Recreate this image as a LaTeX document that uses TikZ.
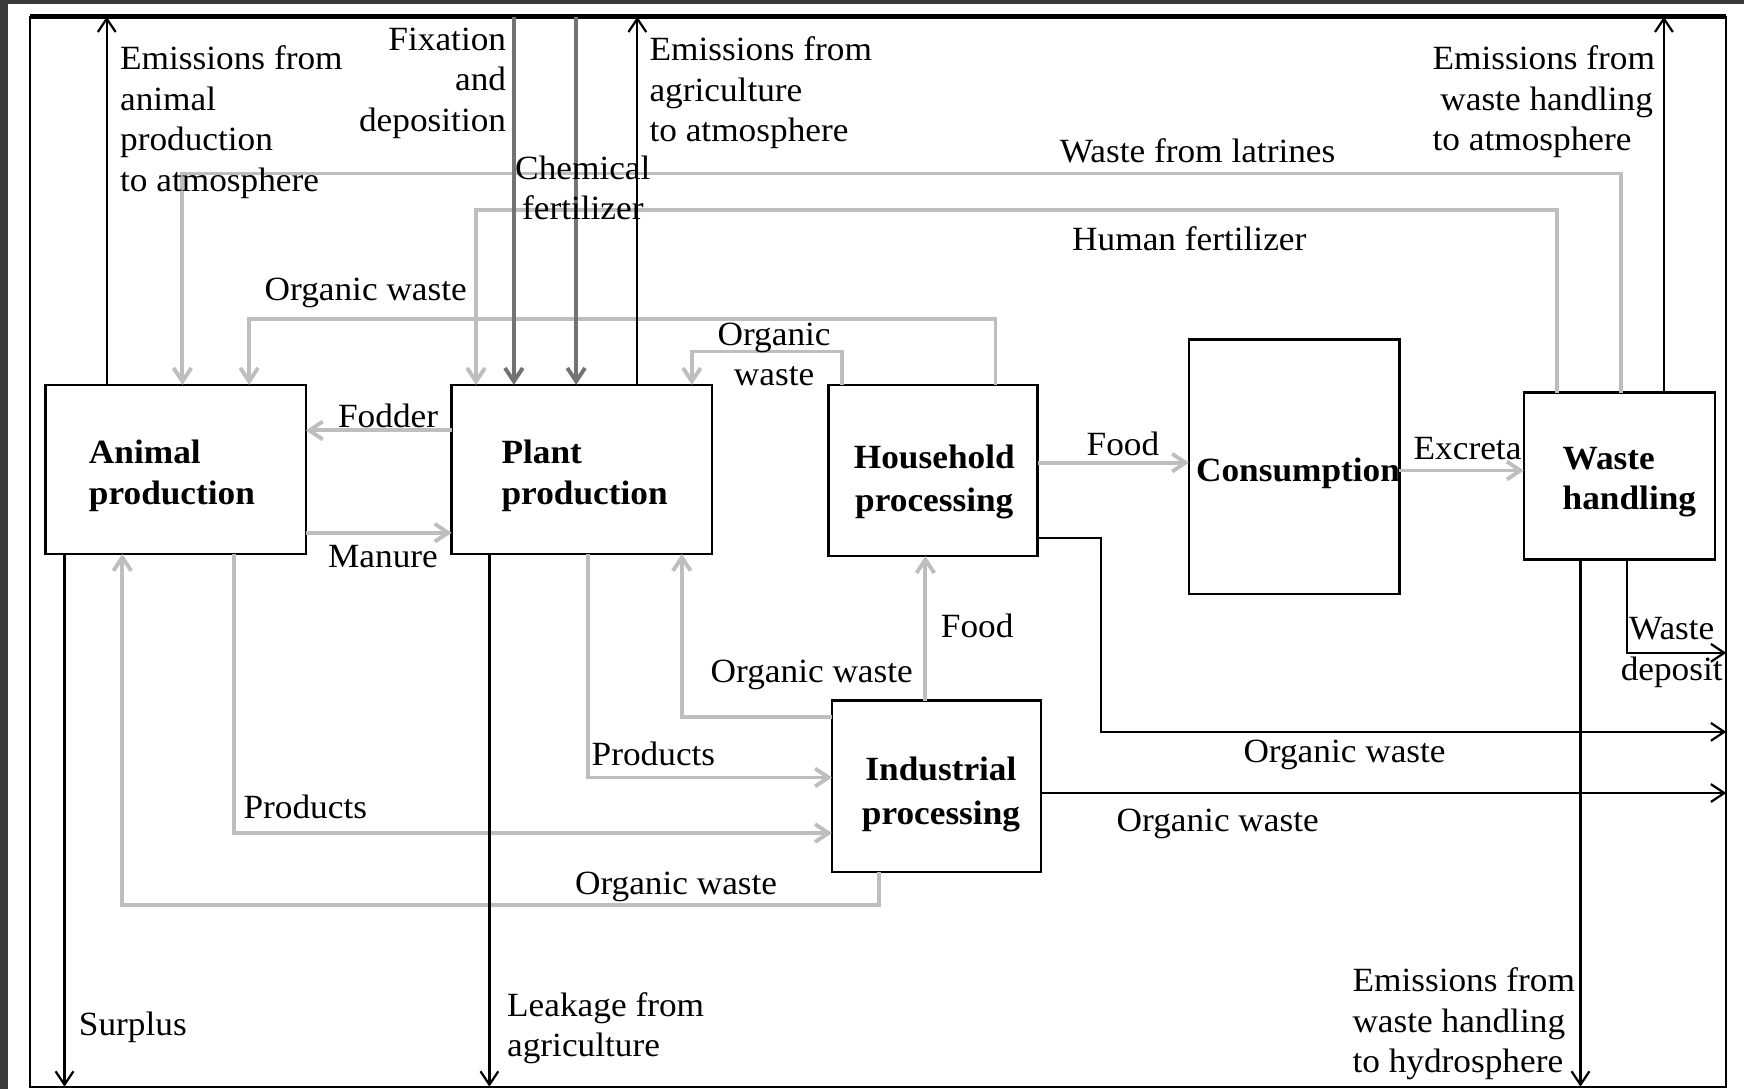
\documentclass[tikz,border=0pt]{standalone}
\usepackage{fontspec}
\setmainfont{Liberation Serif}[FakeStretch=1.04]
\usetikzlibrary{arrows.meta}
\definecolor{lgray}{HTML}{BEBEBE}
\definecolor{dgray}{HTML}{737373}
\definecolor{darkbg}{HTML}{3A3A3A}
\tikzset{
  lab/.style={inner sep=0pt, outer sep=0pt, font=\fontsize{30.5}{36.5}\selectfont, align=left, anchor=north west},
  blab/.style={inner sep=0pt, outer sep=0pt, font=\bfseries\fontsize{30.5}{36.5}\selectfont, align=left, anchor=north west},
  blabw/.style={blab, font=\bfseries\fontsize{30.5}{39}\selectfont, align=center, anchor=north},
  box/.style={draw, line width=2.3pt, inner sep=0pt, outer sep=0pt},
  tip/.style={-{Straight Barb[length=12pt,width=16pt]}},
  blk/.style={tip, line width=2pt, black},
  lg/.style={tip, line width=3.5pt, lgray},
  dg/.style={tip, line width=3.5pt, dgray},
}
\begin{document}
\begin{tikzpicture}[x=1pt,y=-1pt]
\useasboundingbox (0,0) rectangle (1568,979);
\fill[darkbg] (0,0) rectangle (1568,979);
\fill[white] (7.5,3.6) rectangle (1568,979);

% system frame
\node[draw, line width=2pt, inner sep=0pt, outer sep=0pt, minimum width=1525pt, minimum height=962pt] (sys) at (789.5,496) {};
\draw[line width=4pt] (sys.north west) -- (sys.north east);

% boxes
\node[box, minimum width=234pt, minimum height=152pt] (an) at (158,422) {};
\node[box, minimum width=234pt, minimum height=152pt] (pl) at (523,422) {};
\node[box, minimum width=188pt, minimum height=154pt] (hh) at (839,423) {};
\node[box, minimum width=189pt, minimum height=229pt] (co) at (1163.5,419.5) {};
\node[box, minimum width=172pt, minimum height=150pt] (wh) at (1456,428) {};
\node[box, minimum width=188pt, minimum height=154pt] (ip) at (842,707) {};

% box captions
\node[blab] (anT) at (80,396) {Animal\\production};
\node[blab] (plT) at (451,396) {Plant\\production};
\node[blabw] (hhT) at (840,400) {Household\\processing};
\node[blabw] (coT) at (1167,412) {Consumption};
\node[blab] (whT) at (1405,402) {Waste\\handling};
\node[blabw] (ipT) at (846,681) {Industrial\\processing};

% helper columns
\coordinate (xAe) at (96,0);
\coordinate (xAs) at (58,0);
\coordinate (xPe) at (573,0);
\coordinate (xPl) at (440,0);
\coordinate (xWe) at (1496,0);
\coordinate (xWh) at (1421,0);
\coordinate (xWd) at (1463,0);
\coordinate (xF1) at (462,0);
\coordinate (xF2) at (518,0);
\coordinate (xLat) at (1457,0);
\coordinate (xLatA) at (164,0);
\coordinate (xHf) at (1400,0);
\coordinate (xHfP) at (428,0);
\coordinate (xOwA) at (895,0);
\coordinate (xOwAa) at (224,0);
\coordinate (xOwB) at (757,0);
\coordinate (xOwBp) at (622,0);
\coordinate (xFood) at (832,0);
\coordinate (xOwC) at (613,0);
\coordinate (xPrA) at (529,0);
\coordinate (xPrB) at (210,0);
\coordinate (xOwD) at (790,0);
\coordinate (xOwDa) at (110,0);
\coordinate (xOwE) at (990,0);
% helper rows
\coordinate (yLat) at (0,156);
\coordinate (yHf) at (0,189);
\coordinate (yOwA) at (0,287);
\coordinate (yOwB) at (0,316);
\coordinate (yFod) at (0,387);
\coordinate (yMan) at (0,479);
\coordinate (yFood) at (0,416);
\coordinate (yExc) at (0,423);
\coordinate (yOwH) at (0,484);
\coordinate (yWd) at (0,587);
\coordinate (yOwC) at (0,645);
\coordinate (yOutA) at (0,658);
\coordinate (yPrA) at (0,699);
\coordinate (yOutB) at (0,713);
\coordinate (yPrB) at (0,749);
\coordinate (yOwD) at (0,814);

% light gray flows
\draw[lg] (pl.west |- yFod) -- (an.east |- yFod);
\draw[lg] (an.east |- yMan) -- (pl.west |- yMan);
\draw[lg] (xLat |- wh.north) |- (xLatA |- yLat) -- (xLatA |- an.north);
\draw[lg] (xHf |- wh.north) |- (xHfP |- yHf) -- (xHfP |- pl.north);
\draw[lg] (xOwA |- hh.north) |- (xOwAa |- yOwA) -- (xOwAa |- an.north);
\draw[lg] (xOwB |- hh.north) |- (xOwBp |- yOwB) -- (xOwBp |- pl.north);
\draw[lg] (hh.east |- yFood) -- (co.west |- yFood);
\draw[lg] (co.east |- yExc) -- (wh.west |- yExc);
\draw[lg] (xFood |- ip.north) -- (xFood |- hh.south);
\draw[lg] (ip.west |- yOwC) -| (xOwC |- pl.south);
\draw[lg] (xPrA |- pl.south) |- (ip.west |- yPrA);
\draw[lg] (xPrB |- an.south) |- (ip.west |- yPrB);
\draw[lg] (xOwD |- ip.south) |- (xOwDa |- yOwD) -- (xOwDa |- an.south);

% dark gray inputs
\draw[dg] (xF1 |- sys.north) -- (xF1 |- pl.north);
\draw[dg] (xF2 |- sys.north) -- (xF2 |- pl.north);

% black flows across the boundary
\draw[blk] (xAe |- an.north) -- (xAe |- sys.north);
\draw[blk] (xPe |- pl.north) -- (xPe |- sys.north);
\draw[blk] (xWe |- wh.north) -- (xWe |- sys.north);
\draw[blk] (xAs |- an.south) -- (xAs |- sys.south);
\draw[blk] (xPl |- pl.south) -- (xPl |- sys.south);
\draw[blk] (xWh |- wh.south) -- (xWh |- sys.south);
\draw[blk] (xWd |- wh.south) |- (sys.east |- yWd);
\draw[blk] (hh.east |- yOwH) -| (xOwE |- yOutA) -- (sys.east |- yOutA);
\draw[blk] (ip.east |- yOutB) -- (sys.east |- yOutB);

% labels
\node[lab] (lAe) at (108,41) {Emissions from\\animal\\production\\to atmosphere};
\node[lab, anchor=north east, align=right] (lFix) at (455,25) {Fixation\\and\\deposition};
\node[lab, anchor=north, align=center] (lChem) at (524,140) {Chemical\\fertilizer};
\node[lab] (lPe) at (584,33) {Emissions from\\agriculture\\to atmosphere};
\node[lab] (lLat) at (953,125) {Waste from latrines};
\node[lab] (lWe) at (1288,41) {Emissions from\\\hspace*{7pt}waste handling\\to atmosphere};
\node[lab] (lHf) at (964,204) {Human fertilizer};
\node[lab] (lOwA) at (238,250) {Organic waste};
\node[lab, anchor=north, align=center] (lOwB) at (696,290) {Organic\\waste};
\node[lab] (lFod) at (304,363) {Fodder};
\node[lab] (lMan) at (295,490) {Manure};
\node[lab] (lFoodA) at (977,388) {Food};
\node[lab] (lExc) at (1271,393) {Excreta};
\node[lab] (lFoodB) at (846,552) {Food};
\node[lab] (lOwC) at (639,593) {Organic waste};
\node[lab] (lPrA) at (532,667) {Products};
\node[lab] (lPrB) at (219,715) {Products};
\node[lab] (lOwD) at (517,784) {Organic waste};
\node[lab] (lOutA) at (1118,665) {Organic waste};
\node[lab] (lOutB) at (1004,727) {Organic waste};
\node[lab, anchor=north, align=center] (lWd) at (1503,555) {Waste\\deposit};
\node[lab] (lSur) at (71,910) {Surplus};
\node[lab] (lLeak) at (456,892) {Leakage from\\agriculture};
\node[lab] (lHyd) at (1216,870) {Emissions from\\waste handling\\to hydrosphere};
\end{tikzpicture}
\end{document}
